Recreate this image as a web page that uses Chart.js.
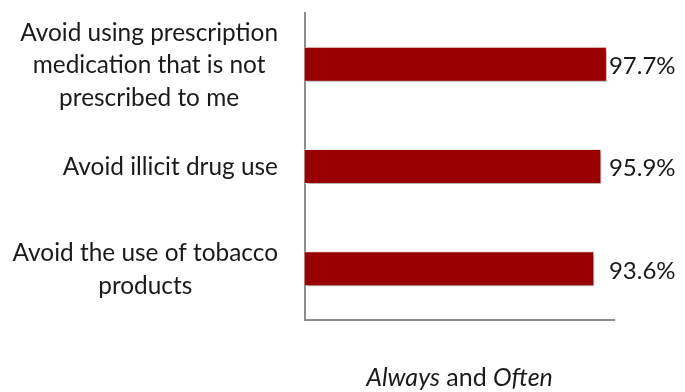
<!DOCTYPE html>
<html>
<head>
<meta charset="utf-8">
<script src="https://cdn.jsdelivr.net/npm/chart.js@4/dist/chart.umd.min.js"></script>
<style>
  html, body { margin: 0; padding: 0; background: #ffffff; }
  #wrap { width: 685px; height: 392px; position: relative; }
</style>
</head>
<body>
<div id="wrap"><canvas id="c"></canvas></div>
<script>
// ---- data ----
const categories = [
  ["Avoid using prescription", "medication that is not", "prescribed to me"],
  ["Avoid illicit drug use"],
  ["Avoid the use of tobacco", "products"]
];
const values = [97.7, 95.9, 93.6];
const valueLabels = ["97.7%", "95.9%", "93.6%"];
const axisTitleParts = [["Always", true], [" and ", false], ["Often", true]];

const FONT = "Lato, 'Open Sans', sans-serif";
const TEXT = "#1a1a1a";

const shadowPlugin = {
  id: 'barShadow',
  beforeDatasetsDraw(chart) {
    const ctx = chart.ctx;
    ctx.save();
    ctx.shadowColor = 'rgba(0,0,0,0.35)';
    ctx.shadowBlur = 4;
    ctx.shadowOffsetX = 2;
    ctx.shadowOffsetY = 2;
  },
  afterDatasetsDraw(chart) {
    chart.ctx.restore();
  }
};

const textPlugin = {
  id: 'texts',
  afterDraw(chart) {
    const ctx = chart.ctx;
    const y = chart.scales.y, x = chart.scales.x;
    const area = chart.chartArea;
    ctx.save();
    ctx.fillStyle = TEXT;
    // category labels: block right-aligned, lines centered within block
    ctx.font = "24.4px " + FONT;
    ctx.textBaseline = 'middle';
    ctx.textAlign = 'center';
    const lineH = 32.5;
    const rightEdge = area.left - 27;
    categories.forEach((lines, i) => {
      const cy = y.getPixelForValue(i);
      const bw = Math.max(...lines.map(l => ctx.measureText(l).width));
      const cx = rightEdge - bw / 2;
      const top = cy - (lines.length - 1) * lineH / 2;
      lines.forEach((l, j) => ctx.fillText(l, cx, top + j * lineH + 1));
    });
    // value labels
    ctx.font = "24px " + FONT;
    ctx.textAlign = 'left';
    const lx = x.getPixelForValue(Math.max(...values)) + 2;
    values.forEach((v, i) => {
      ctx.fillText(valueLabels[i], lx, y.getPixelForValue(i) + 2);
    });
    // axis title
    ctx.textBaseline = 'alphabetic';
    const fonts = axisTitleParts.map(p => (p[1] ? "italic " : "") + "25px " + FONT);
    let total = 0;
    const widths = axisTitleParts.map((p, k) => { ctx.font = fonts[k]; const w = ctx.measureText(p[0]).width; total += w; return w; });
    let tx = (area.left + area.right) / 2 - total / 2;
    axisTitleParts.forEach((p, k) => {
      ctx.font = fonts[k];
      ctx.fillText(p[0], tx, 386);
      tx += widths[k];
    });
    ctx.restore();
  }
};

new Chart(document.getElementById('c'), {
  type: 'bar',
  data: {
    labels: categories,
    datasets: [{
      data: values,
      backgroundColor: '#990000',
      borderColor: 'rgba(255,240,240,0.9)',
      borderWidth: 1,
      borderSkipped: 'start',
      categoryPercentage: 1,
      barPercentage: 0.342
    }]
  },
  options: {
    indexAxis: 'y',
    responsive: true,
    maintainAspectRatio: false,
    animation: false,
    layout: { padding: { left: 305, right: 71, top: 13, bottom: 72 } },
    plugins: { legend: { display: false }, tooltip: { enabled: false } },
    scales: {
      x: {
        min: 0, max: 100,
        ticks: { display: false },
        grid: { display: false, drawTicks: false },
        border: { display: true, color: '#8c8c8c', width: 2 },
        afterFit(s) { s.height = 0; }
      },
      y: {
        ticks: { display: false },
        grid: { display: false, drawTicks: false },
        border: { display: true, color: '#8c8c8c', width: 2 },
        afterFit(s) { s.width = 0; }
      }
    }
  },
  plugins: [shadowPlugin, textPlugin]
});
</script>
</body>
</html>
